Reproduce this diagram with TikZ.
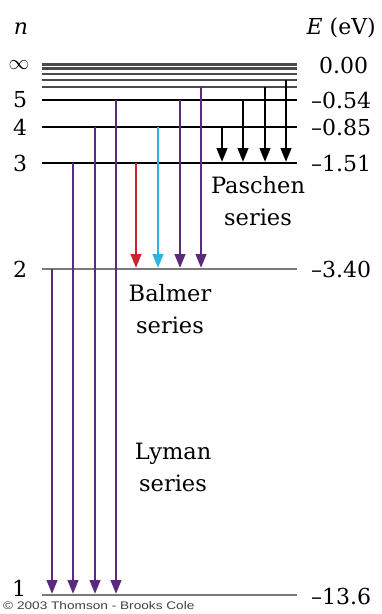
\documentclass[tikz,border=0pt]{standalone}
\usepackage{fontspec}
\setmainfont{DejaVu Serif}
\newfontfamily\copyfont{Liberation Sans}
\usetikzlibrary{arrows.meta}
\definecolor{lvlgray}{HTML}{7A7A7A}
\definecolor{topgray}{HTML}{4A4A4A}
\definecolor{lpurple}{HTML}{5A2A7E}
\definecolor{lred}{HTML}{C8262E}
\definecolor{lcyan}{HTML}{2FB4DC}
\tikzset{
  lvl/.style={line width=2.2pt,draw=black},
  lvlg/.style={line width=2.4pt,draw=lvlgray},
  lvlt/.style={line width=2.4pt,draw=topgray},
  trans/.style={line width=2.6pt,-{Triangle[length=14pt,width=10.5pt]}},
  lab/.style={inner sep=0pt,font=\fontsize{22}{24}\selectfont},
  ser/.style={inner sep=0pt,font=\fontsize{22.5}{32}\selectfont,align=center}
}
\begin{document}
\begin{tikzpicture}[x=1pt,y=-1pt]
\useasboundingbox (0,0) rectangle (381,614);
\fill[white] (0,0) rectangle (381,614);
% level lines
\draw[lvlt] (42,64.5) -- (297,64.5);
\draw[lvlt] (42,68.5) -- (297,68.5);
\draw[lvlt] (42,74) -- (297,74);
\draw[lvlt] (42,80) -- (297,80);
\draw[lvlt] (42,87) -- (297,87);
\draw[lvl] (42,100) -- (297,100);
\draw[lvl] (42,127) -- (297,127);
\draw[lvl] (42,163) -- (297,163);
\draw[lvlg] (42,269) -- (297,269);
\draw[lvlg] (42,595) -- (297,595);
% left labels
\node[lab] (nlab) at (21,29) {\itshape n};
\node[lab] (ninf) at (19,65) {$\infty$};
\node[lab] (n5) at (20,100) {5};
\node[lab] (n4) at (20,127) {4};
\node[lab] (n3) at (20,163) {3};
\node[lab] (n2) at (20,269) {2};
\node[lab,anchor=base] (n1) at (19,596) {1};
% right labels
\node[lab,anchor=east] (Elab) at (376,28) {\itshape E\upshape\ (eV)};
\node[lab,anchor=west] (e0) at (319,65) {0.00};
\node[lab,anchor=west] (e5) at (311,100) {–0.54};
\node[lab,anchor=west] (e4) at (311,127) {–0.85};
\node[lab,anchor=west] (e3) at (311,163) {–1.51};
\node[lab,anchor=west] (e2) at (311,269) {–3.40};
\node[lab,anchor=west] (e1) at (311,596) {–13.6};
% coordinates
\coordinate (Ly2) at (52,269);  \coordinate (Ly2e) at (52,594);
\coordinate (Ly3) at (73,163);  \coordinate (Ly3e) at (73,594);
\coordinate (Ly4) at (95,127);  \coordinate (Ly4e) at (95,594);
\coordinate (Ly5) at (116,100); \coordinate (Ly5e) at (116,594);
\coordinate (Ba3) at (136,163); \coordinate (Ba3e) at (136,268);
\coordinate (Ba4) at (158,127); \coordinate (Ba4e) at (158,268);
\coordinate (Ba5) at (180,100); \coordinate (Ba5e) at (180,268);
\coordinate (Ba6) at (201,87);  \coordinate (Ba6e) at (201,268);
\coordinate (Pa4) at (222,127); \coordinate (Pa4e) at (222,162);
\coordinate (Pa5) at (243,100); \coordinate (Pa5e) at (243,162);
\coordinate (Pa6) at (265,87);  \coordinate (Pa6e) at (265,162);
\coordinate (Pa7) at (286,80);  \coordinate (Pa7e) at (286,162);
% Lyman
\draw[trans,lpurple] (Ly2) -- (Ly2e);
\draw[trans,lpurple] (Ly3) -- (Ly3e);
\draw[trans,lpurple] (Ly4) -- (Ly4e);
\draw[trans,lpurple] (Ly5) -- (Ly5e);
% Balmer
\draw[trans,lred] (Ba3) -- (Ba3e);
\draw[trans,lcyan] (Ba4) -- (Ba4e);
\draw[trans,lpurple] (Ba5) -- (Ba5e);
\draw[trans,lpurple] (Ba6) -- (Ba6e);
% Paschen
\draw[trans,black] (Pa4) -- (Pa4e);
\draw[trans,black] (Pa5) -- (Pa5e);
\draw[trans,black] (Pa6) -- (Pa6e);
\draw[trans,black] (Pa7) -- (Pa7e);
% series labels
\node[ser] (pas) at (258,201) {Paschen\\series};
\node[ser] (bal) at (170,309) {Balmer\\series};
\node[ser] (lym) at (173,467) {Lyman\\series};
% copyright
\node[inner sep=0pt,anchor=west,font=\copyfont\fontsize{11}{12}\selectfont,text=black!75] (copy) at (3,606) {\scalebox{1.24}[1]{© 2003 Thomson - Brooks Cole}};
\end{tikzpicture}
\end{document}
